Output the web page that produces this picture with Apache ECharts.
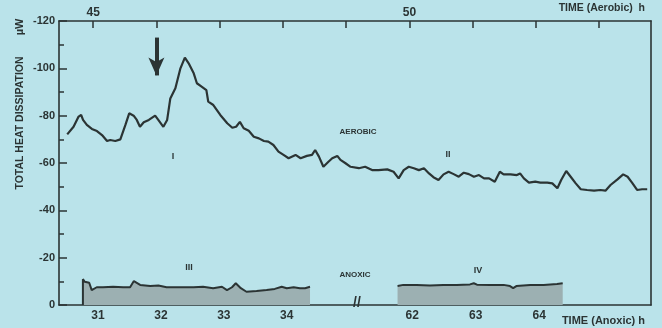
<!DOCTYPE html>
<html>
<head>
<meta charset="utf-8">
<script src="https://cdn.jsdelivr.net/npm/echarts@6/dist/echarts.min.js"></script>
<style>
  html, body { margin: 0; padding: 0; background: #bae3ea; }
  #chart { width: 662px; height: 328px; }
</style>
</head>
<body>
<div id="chart"></div>
<script>
// aerobic trace (top time axis, h)
const aeroTime = [44.59,44.69,44.77,44.81,44.84,44.90,44.98,45.06,45.14,45.22,45.27,45.35,45.43,45.51,45.57,45.64,45.69,45.74,45.80,45.88,
  45.98,46.03,46.11,46.17,46.22,46.30,46.38,46.45,46.51,46.59,46.64,46.72,46.79,46.82,46.90,47.01,47.12,47.20,47.26,47.32,
  47.38,47.46,47.54,47.62,47.70,47.77,47.85,47.93,48.01,48.09,48.20,48.28,48.38,48.46,48.51,48.57,48.64,48.72,48.78,48.86,
  48.91,48.99,49.07,49.20,49.30,49.41,49.51,49.65,49.75,49.83,49.91,49.99,50.07,50.15,50.23,50.31,50.38,50.46,50.54,50.62,
  50.70,50.78,50.86,50.94,51.02,51.10,51.18,51.26,51.35,51.43,51.49,51.60,51.70,51.75,51.81,51.89,51.99,52.07,52.18,52.26,
  52.34,52.40,52.48,52.55,52.63,52.71,52.81,52.92,53.02,53.10,53.18,53.29,53.38,53.45,53.52,53.60,53.68,53.76];
const aeroHeat = [-72.1,-75.3,-79.6,-80.3,-78.2,-76.1,-74.4,-73.5,-71.8,-69.3,-69.7,-69.3,-70.0,-76.1,-81.0,-80.0,-78.2,-75.3,-77.2,-78.2,
  -80.0,-78.2,-75.3,-78.2,-87.3,-91.6,-100.0,-104.5,-102.1,-97.9,-93.7,-92.2,-90.8,-85.9,-84.5,-80.3,-76.8,-74.9,-75.3,-77.4,
  -74.7,-73.6,-71.1,-70.4,-69.3,-69.0,-67.6,-64.8,-63.4,-62.0,-63.4,-62.0,-63.0,-63.4,-65.5,-62.7,-58.4,-60.5,-62.0,-63.0,
  -61.3,-59.9,-58.4,-57.8,-58.4,-57.0,-57.0,-57.3,-56.3,-53.5,-57.0,-58.4,-57.8,-57.0,-57.8,-55.6,-54.0,-52.8,-55.2,-56.3,
  -55.3,-54.2,-55.9,-55.3,-54.2,-54.9,-53.5,-53.5,-52.1,-56.3,-55.2,-55.2,-54.9,-55.6,-53.5,-51.7,-52.1,-51.7,-51.7,-51.4,
  -49.3,-52.8,-56.6,-54.2,-51.4,-48.9,-48.6,-48.3,-48.6,-48.3,-50.7,-53.1,-55.2,-54.2,-51.7,-48.6,-48.9,-48.9];

// anoxic trace, first part (III) and second part (IV), bottom time axis
const anoxTimeA = [30.76,30.76,30.79,30.86,30.90,30.93,30.98,31.08,31.24,31.40,31.51,31.57,31.67,31.83,31.96,32.09,32.30,32.52,
  32.67,32.83,32.97,33.05,33.13,33.19,33.27,33.36,33.52,33.68,33.81,33.92,34.00,34.11,34.21,34.29,34.37];
const anoxHeatA = [0,-10.9,-9.8,-9.4,-6.3,-7.1,-7.5,-7.5,-7.7,-7.5,-7.5,-10.1,-8.5,-8.0,-8.2,-7.5,-7.5,-7.5,
  -7.7,-7.1,-7.7,-6.3,-7.5,-9.2,-7.1,-5.6,-5.9,-6.3,-6.8,-7.7,-7.1,-7.5,-7.1,-7.1,-7.7];
const anoxTimeB = [61.77,61.86,62.07,62.28,62.49,62.70,62.91,62.97,63.02,63.23,63.44,63.54,63.59,63.64,63.86,64.07,64.28,64.37];
const anoxHeatB = [-8.0,-8.5,-8.5,-8.2,-8.5,-8.5,-8.7,-9.2,-8.6,-8.5,-8.5,-8.0,-7.1,-8.0,-8.5,-8.5,-8.9,-9.2];

const aeroTicks = [45, 46, 47, 48, 49, 50, 51, 52, 53];
const aeroLabels = [45, 50];
const anoxTicksA = [31, 32, 33, 34];
const anoxTicksB = [62, 63, 64];

const ink = "#2b3434";
const bg = "#bae3ea";
const font = "Liberation Sans";

const zip = (xs, ys) => xs.map((x, i) => [x, ys[i]]);

const chart = echarts.init(document.getElementById("chart"));

const axisLine = { show: true, onZero: false, lineStyle: { color: ink, width: 1.6 } };
const labelStyle = { color: ink, fontSize: 11, fontWeight: "bold", fontFamily: font };

const text = (x, y, str, size, extra = {}) => ({
  type: "text", x, y, ...extra,
  style: {
    text: str, fill: ink, font: `bold ${size}px "${font}"`,
    align: extra.align || "center", textAlign: extra.align || "center",
    verticalAlign: "middle", textVerticalAlign: "middle",
  },
});

const option = {
  backgroundColor: bg,
  animation: false,
  grid: { left: 59, right: 11, top: 21, height: 284 },
  xAxis: [
    // top — aerobic time
    {
      type: "value", position: "top", min: 44.46, max: 53.82,
      axisLine,
      axisTick: { inside: true, length: 7, customValues: aeroTicks, lineStyle: { color: ink, width: 1.5 } },
      axisLabel: { ...labelStyle, fontSize: 12, margin: 2, customValues: aeroLabels },
      splitLine: { show: false },
    },
    // bottom — anoxic time, 30-35 h
    {
      type: "value", position: "bottom", min: 30.38, max: 39.79,
      axisLine,
      axisTick: { inside: true, length: 6, customValues: anoxTicksA, lineStyle: { color: ink, width: 1.5 } },
      axisLabel: { ...labelStyle, fontSize: 12, margin: 5, customValues: anoxTicksA },
      splitLine: { show: false },
    },
    // bottom — anoxic time after break, 62-64 h
    {
      type: "value", position: "bottom", min: 56.44, max: 65.76,
      axisLine: { show: false, onZero: false },
      axisTick: { inside: true, length: 6, customValues: anoxTicksB, lineStyle: { color: ink, width: 1.5 } },
      axisLabel: { ...labelStyle, fontSize: 12, margin: 5, customValues: anoxTicksB },
      splitLine: { show: false },
    },
  ],
  yAxis: [
    {
      type: "value", position: "left", inverse: true, min: -120, max: 0, interval: 20,
      axisLine,
      axisTick: { inside: true, length: 8, lineStyle: { color: ink, width: 1.5 } },
      minorTick: { show: true, splitNumber: 2, length: 5, lineStyle: { color: ink, width: 1.5 } },
      axisLabel: { ...labelStyle, margin: 4 },
      splitLine: { show: false },
    },
    {
      type: "value", position: "right", inverse: true, min: -120, max: 0,
      axisLine,
      axisTick: { show: false },
      axisLabel: { show: false },
      splitLine: { show: false },
    },
  ],
  series: [
    {
      name: "Aerobic", type: "line", xAxisIndex: 0, yAxisIndex: 0,
      data: zip(aeroTime, aeroHeat),
      symbol: "none",
      lineStyle: { color: ink, width: 2.2 },
      markLine: {
        silent: true,
        symbol: ["none", "arrow"],
        symbolSize: [12, 18],
        label: { show: false },
        lineStyle: { color: ink, width: 4, type: "solid" },
        data: [[{ coord: [46, -113] }, { coord: [46, -97] }]],
      },
    },
    {
      name: "Anoxic III", type: "line", xAxisIndex: 1, yAxisIndex: 0,
      data: zip(anoxTimeA, anoxHeatA),
      symbol: "none",
      lineStyle: { color: ink, width: 2 },
      areaStyle: { color: "#9cb0b2", opacity: 1 },
    },
    {
      name: "Anoxic IV", type: "line", xAxisIndex: 2, yAxisIndex: 0,
      data: zip(anoxTimeB, anoxHeatB),
      symbol: "none",
      lineStyle: { color: ink, width: 2 },
      areaStyle: { color: "#9cb0b2", opacity: 1 },
    },
  ],
  graphic: [
    text(645, 8, "TIME (Aerobic)  h", 10.5, { align: "right" }),
    text(645, 321, "TIME (Anoxic) h", 11, { align: "right" }),
    text(20, 123, "TOTAL HEAT DISSIPATION", 10.5, { rotation: Math.PI / 2 }),
    text(20, 27, "µW", 11, { rotation: Math.PI / 2 }),
    text(357, 303, "//", 14),
    text(173, 157, "I", 9),
    text(358, 132, "AEROBIC", 8),
    text(448, 155, "II", 9),
    text(189, 268, "III", 9),
    text(355, 275, "ANOXIC", 8),
    text(478, 271, "IV", 9),
  ],
};

chart.setOption(option);
window.addEventListener("resize", () => chart.resize());
</script>
</body>
</html>
